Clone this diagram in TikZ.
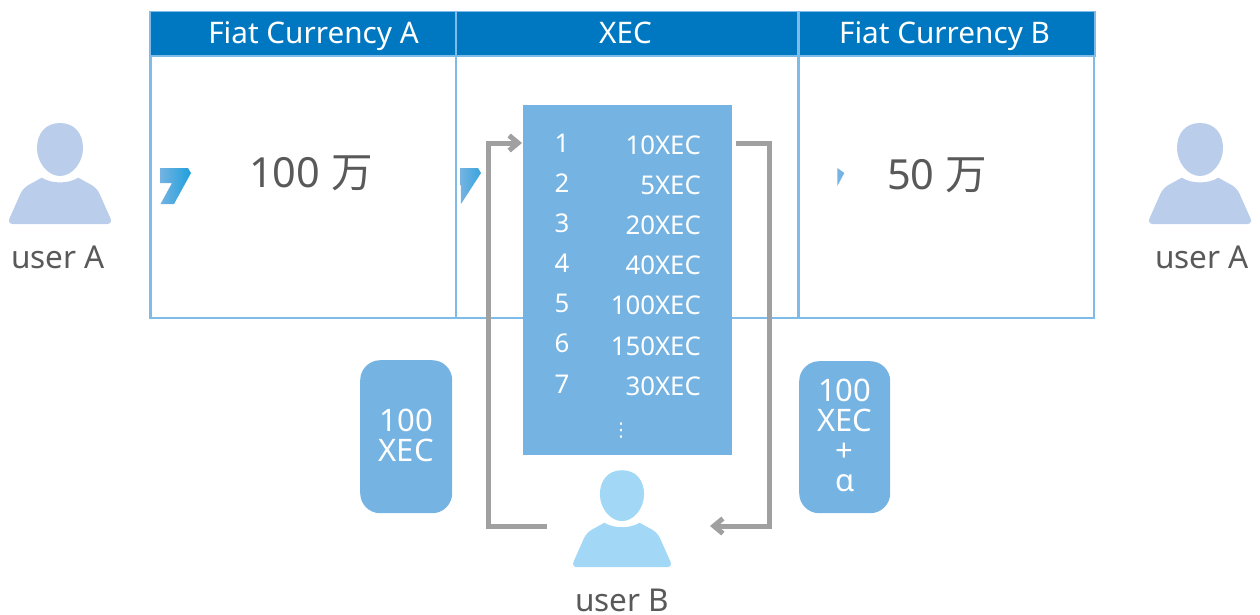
\documentclass[tikz,border=0pt]{standalone}
\usepackage{fontspec}
\setmainfont{Noto Sans}
\newfontfamily\cjkfont{Noto Sans CJK JP}
\newfontfamily\dotsfont{DejaVu Sans}
\usetikzlibrary{arrows.meta}
\definecolor{headblue}{HTML}{0078C1}
\definecolor{paleblue}{HTML}{74B3E2}
\definecolor{ruleblue}{HTML}{7FBBE8}
\definecolor{logoblue}{HTML}{1E9FDC}
\definecolor{userblue}{HTML}{BACEEC}
\definecolor{skyblue}{HTML}{A2D8F6}
\definecolor{flowgray}{HTML}{A0A0A0}
\definecolor{textgray}{HTML}{595959}
\tikzset{
  head/.style={text=white,font=\fontsize{29.7}{29.7}\selectfont,anchor=base},
  rowtext/.style={text=white,font=\fontsize{25.8}{25.8}\selectfont,inner sep=0pt},
  amount/.style={text=textgray,font=\fontsize{41.5}{41.5}\selectfont},
  username/.style={text=textgray,font=\fontsize{31.5}{31.5}\selectfont},
  note/.style={fill=paleblue,rounded corners=20pt,text=white,align=center,
    font=\fontsize{31}{30}\selectfont,inner sep=0pt,anchor=north west,text depth=3pt},
  flow/.style={draw=flowgray,line width=5pt},
  person/.pic={
    \path[pic actions,draw=none] (0,-30) .. controls (15,-30) and (23,-19) .. (23,-5)
      .. controls (23,10) and (12,23) .. (0,23)
      .. controls (-12,23) and (-23,10) .. (-23,-5)
      .. controls (-23,-19) and (-15,-30) .. (0,-30) -- cycle;
    \path[pic actions,draw=none] (-18.3,24.7) .. controls (-8,31) and (8,31) .. (18.3,24.7)
      [rounded corners=6pt] -- (37,35) -- (53,71) -- (-53,71) -- (-37,35) [sharp corners] -- cycle;
  }
}
\begin{document}
\begin{tikzpicture}[x=1pt,y=-1pt]
  \useasboundingbox (0,0) rectangle (1260,614);
  % table
  \draw[ruleblue,line width=1.5pt,fill=headblue] (150,11.5) rectangle (1095,56);
  \draw[ruleblue,line width=2.5pt] (150.5,56) rectangle (1094,318);
  \draw[ruleblue,line width=2.5pt] (456,12) -- (456,318);
  \draw[ruleblue,line width=2.5pt] (798.5,12) -- (798.5,318);
  \node[head] (fiatA) at (313.5,43) {Fiat Currency A};
  \node[head] (xec) at (625.5,43) {XEC};
  \node[head] (fiatB) at (944.5,43) {Fiat Currency B};
  % logo marks
  \shade[left color=paleblue,right color=logoblue] (160,168) -- (188,168) -- (191,173) -- (174,204)
    -- (160.5,204) -- (172,183) -- (160,183) -- cycle;
  \shade[left color=paleblue,right color=logoblue!70!paleblue] (460.5,168) -- (478,168) -- (481,173) -- (461,204) -- cycle;
  \fill[paleblue] (837.3,168) -- (844.3,173) -- (837.3,186) -- cycle;
  \node[amount] (amountA) at (311,173) {100 {\cjkfont 万}};
  \node[amount] (amountB) at (937,175) {50 {\cjkfont 万}};
  % list
  \fill[paleblue] (523,105) rectangle (732,455);
  \node[rowtext] (n1) at (562,143) {1};
  \node[rowtext] (n2) at (562,183) {2};
  \node[rowtext] (n3) at (562,223) {3};
  \node[rowtext] (n4) at (562,263) {4};
  \node[rowtext] (n5) at (562,303) {5};
  \node[rowtext] (n6) at (562,343) {6};
  \node[rowtext] (n7) at (562,384) {7};
  \node[rowtext,anchor=east] (v1) at (701,145) {10XEC};
  \node[rowtext,anchor=east] (v2) at (701,185) {5XEC};
  \node[rowtext,anchor=east] (v3) at (701,225) {20XEC};
  \node[rowtext,anchor=east] (v4) at (701,265) {40XEC};
  \node[rowtext,anchor=east] (v5) at (701,305) {100XEC};
  \node[rowtext,anchor=east] (v6) at (701,346) {150XEC};
  \node[rowtext,anchor=east] (v7) at (701,386) {30XEC};
  \node[text=white,inner sep=0pt] (more) at (621,431) {\fontsize{19}{19}\dotsfont ⋮};
  % notes
  \node[note,minimum width=92pt,minimum height=153pt] (noteA) at (360,360) {100\\XEC};
  \node[note,minimum width=91pt,minimum height=152pt] (noteB) at (799,361) {100\\XEC\\+\\α};
  % users
  \pic[fill=userblue] (userA) at (60,153) {person};
  \pic[fill=userblue] (userC) at (1200,153) {person};
  \pic[fill=skyblue,scale=.96] (userB) at (622,499) {person};
  \node[username] (nameA) at (58,257) {user A};
  \node[username] (nameC) at (1202,257) {user A};
  \node[username] (nameB) at (622,600) {user B};
  % flows
  \coordinate (outB) at (547,526);
  \coordinate (inList) at (522,143);
  \coordinate (outList) at (736,143);
  \coordinate (inB) at (710,526);
  \draw[flow,-{Straight Barb[length=9pt,width=15pt]}] (outB) -| (488,143) -- (inList);
  \draw[flow,-{Straight Barb[length=9pt,width=15pt]}] (outList) -| (769,526) -- (inB);
\end{tikzpicture}
\end{document}
